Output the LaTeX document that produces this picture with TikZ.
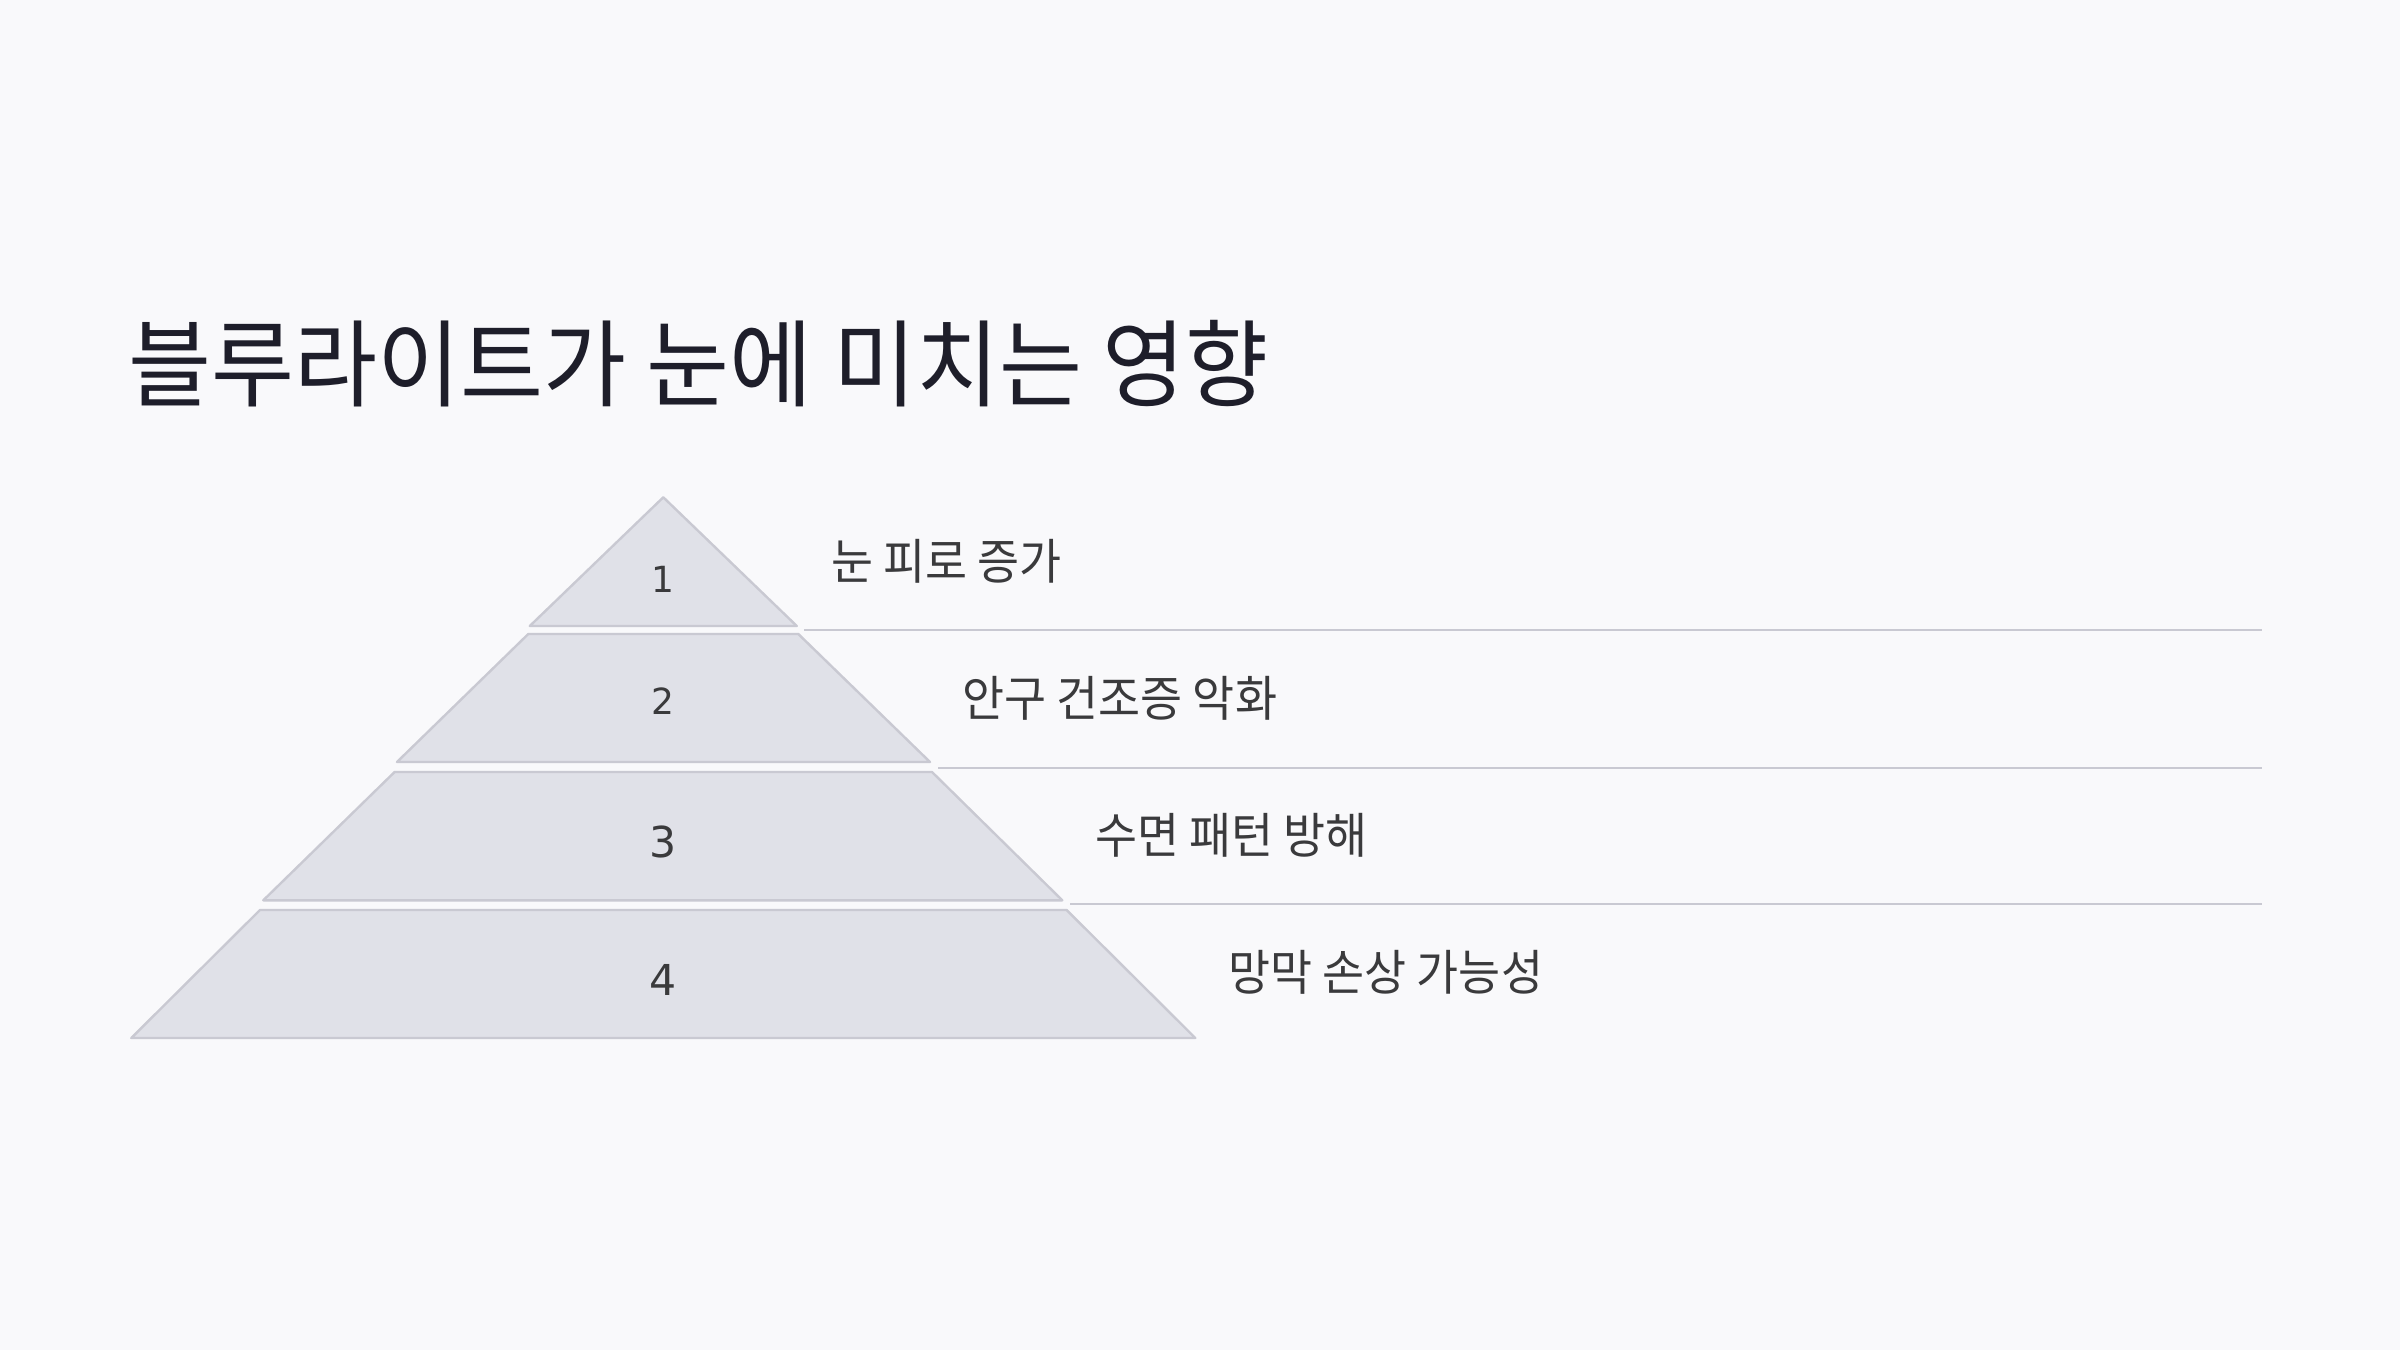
\documentclass[tikz,border=0pt]{standalone}
\usepackage{fontspec}
\newfontfamily\krtitle[FakeStretch=0.95]{Noto Sans CJK KR}
\newfontfamily\krfont[FakeStretch=0.94]{Noto Sans CJK KR}
\newfontfamily\numfont{DejaVu Sans}
\definecolor{bgcol}{HTML}{F9F9FB}
\definecolor{tierfill}{HTML}{E0E1E8}
\definecolor{tierline}{HTML}{C9C9D2}
\definecolor{titlecol}{HTML}{1E1E2A}
\definecolor{labelcol}{HTML}{3A3A3C}
\tikzset{
  tier/.style={fill=tierfill, draw=tierline, line width=1.2pt, line join=round},
  sepline/.style={draw=tierline, line width=1pt},
  labeltext/.style={anchor=west, inner sep=0pt, text=labelcol, font=\krfont\fontsize{24.3pt}{28pt}\selectfont},
  numsmall/.style={anchor=center, inner sep=0pt, text=labelcol, font=\numfont\fontsize{18pt}{20pt}\selectfont},
  numbig/.style={anchor=center, inner sep=0pt, text=labelcol, font=\numfont\fontsize{21.3pt}{24pt}\selectfont},
  titletext/.style={anchor=west, inner sep=0pt, text=titlecol, font=\krtitle\fontsize{47.5pt}{54pt}\selectfont}
}
\begin{document}
\begin{tikzpicture}[x=0.5pt,y=-0.5pt]
\fill[bgcol] (0,0) rectangle (2400,1350);
\useasboundingbox (0,0) rectangle (2400,1350);

\node[titletext] (title) at (128,364) {블루라이트가 눈에 미치는 영향};

% pyramid tiers
\path[tier] (663.3,497.3) -- (796.8,626) -- (529.8,626) -- cycle;
\path[tier] (528.3,634) -- (798.3,634) -- (930,762) -- (397,762) -- cycle;
\path[tier] (394.6,772) -- (932,772) -- (1062.3,900.3) -- (263.3,900.3) -- cycle;
\path[tier] (260,910) -- (1066.6,910) -- (1195.3,1038) -- (131.3,1038) -- cycle;

% numbers
\node[numsmall] (n1) at (663.3,579) {1};
\node[numsmall] (n2) at (663.3,701) {2};
\node[numbig] (n3) at (663.3,841.7) {3};
\node[numbig] (n4) at (663.3,979.7) {4};

% separator lines
\coordinate (s1a) at (804,630);   \coordinate (s1b) at (2262,630);
\coordinate (s2a) at (938,767.7); \coordinate (s2b) at (2262,767.7);
\coordinate (s3a) at (1070,904);  \coordinate (s3b) at (2262,904);
\draw[sepline] (s1a) -- (s1b);
\draw[sepline] (s2a) -- (s2b);
\draw[sepline] (s3a) -- (s3b);

% labels
\node[labeltext] (l1) at (831,561) {눈 피로 증가};
\node[labeltext] (l2) at (962,698) {안구 건조증 악화};
\node[labeltext] (l3) at (1095,835) {수면 패턴 방해};
\node[labeltext] (l4) at (1228,972) {망막 손상 가능성};
\end{tikzpicture}
\end{document}
